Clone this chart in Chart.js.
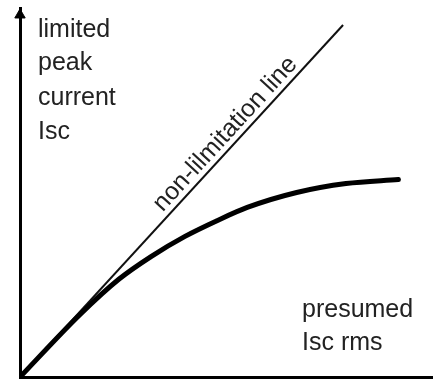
<!DOCTYPE html>
<html>
<head>
<meta charset="utf-8">
<script src="https://cdn.jsdelivr.net/npm/chart.js@4/dist/chart.umd.min.js"></script>
<style>
html,body{margin:0;padding:0;background:#fff;}
#wrap{width:439px;height:384px;position:relative;}
</style>
</head>
<body>
<div id="wrap"><canvas id="c"></canvas></div>
<script>
// Data (arbitrary units)
const limitedX = [0, 60, 100, 133, 167, 200, 230, 280, 330, 383];
const limitedY = [0, 62, 98, 121, 141, 157, 170, 185, 194, 198];
const nonLimX = [0, 327];
const nonLimY = [0, 353];
const xMax = 417;
const yMax = 370;
const yLabel = ["limited", "peak", "current", "Isc"];
const xLabel = ["presumed", "Isc rms"];
const lineLabel = "non-lilmitation line";

const toPts = (xs, ys) => xs.map((x, i) => ({x: x, y: ys[i]}));

const textPlugin = {
  id: 'texts',
  afterDraw(chart) {
    const ctx = chart.ctx;
    const xs = chart.scales.x, ys = chart.scales.y;
    ctx.save();
    ctx.fillStyle = '#222';
    ctx.font = '25px "Liberation Sans", Arial, sans-serif';
    ctx.textBaseline = 'alphabetic';
    ctx.textAlign = 'left';
    const yb = [37, 70, 105, 139];
    yLabel.forEach((t, i) => ctx.fillText(t, 38, yb[i]));
    const xb = [317, 350];
    xLabel.forEach((t, i) => ctx.fillText(t, 302, xb[i]));
    // rotated label along the non-limitation line
    const x0 = xs.getPixelForValue(nonLimX[0]), y0 = ys.getPixelForValue(nonLimY[0]);
    const x1 = xs.getPixelForValue(nonLimX[1]), y1 = ys.getPixelForValue(nonLimY[1]);
    const ang = Math.atan2(y1 - y0, x1 - x0);
    const t = 0.665;
    const cx = x0 + (x1 - x0) * t, cy = y0 + (y1 - y0) * t;
    ctx.translate(cx, cy);
    ctx.rotate(ang);
    ctx.textAlign = 'center';
    ctx.fillText(lineLabel, 0, -6);
    ctx.restore();
  }
};

new Chart(document.getElementById('c'), {
  type: 'scatter',
  data: {
    datasets: [
      {
        data: toPts(limitedX, limitedY),
        showLine: true, borderColor: '#000', borderWidth: 5,
        borderCapStyle: 'round', tension: 0.4, cubicInterpolationMode: 'monotone',
        pointRadius: 0
      },
      {
        data: toPts(nonLimX, nonLimY),
        showLine: true, borderColor: '#111', borderWidth: 2,
        pointRadius: 0
      },
      {
        data: [{x: 0, y: yMax - 7}],
        pointStyle: 'triangle', pointRadius: 6, backgroundColor: '#000',
        borderColor: '#000', borderWidth: 1, clip: false
      }
    ]
  },
  options: {
    responsive: true, maintainAspectRatio: false, animation: false,
    layout: {padding: {left: 20, top: 8, right: 2, bottom: 6}},
    plugins: {legend: {display: false}, tooltip: {enabled: false}},
    scales: {
      x: {
        type: 'linear', min: 0, max: xMax,
        ticks: {display: false}, grid: {display: false, drawTicks: false},
        border: {display: true, color: '#000', width: 3}
      },
      y: {
        type: 'linear', min: 0, max: yMax,
        ticks: {display: false}, grid: {display: false, drawTicks: false},
        border: {display: true, color: '#000', width: 3}
      }
    }
  },
  plugins: [textPlugin]
});
</script>
</body>
</html>
